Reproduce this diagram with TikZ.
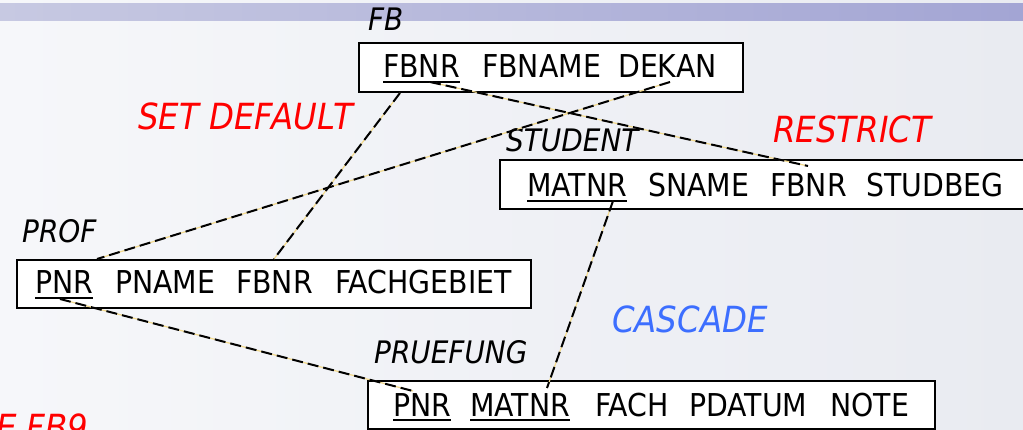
\documentclass[tikz,border=0pt]{standalone}
\usepackage{fontspec}
\setmainfont{DejaVu Sans}[FakeStretch=0.9]
\usetikzlibrary{calc}
\definecolor{bgL}{RGB}{246,247,250}
\definecolor{bgR}{RGB}{233,235,241}
\definecolor{barL}{RGB}{199,201,226}
\definecolor{barR}{RGB}{163,165,212}
\definecolor{fkyellow}{RGB}{243,218,142}
\definecolor{casblue}{RGB}{60,110,255}
\begin{document}
\begin{tikzpicture}[x=1pt,y=-1pt,
  relbox/.style={draw=black, line width=2pt, fill=white, inner sep=0pt, anchor=north west},
  attr/.style={inner sep=0pt, anchor=base west, font=\fontsize{31.5}{36}\selectfont},
  rellabel/.style={inner sep=0pt, anchor=base west, font=\fontsize{31}{36}\selectfont\itshape},
  rulelabel/.style={inner sep=0pt, anchor=base west, font=\fontsize{36}{42}\selectfont\itshape},
  ul/.style={line width=2.4pt},
  fk/.style={line width=2pt, dash pattern=on 11pt off 5pt,
    preaction={draw=fkyellow, line width=1.2pt, solid}}]
\useasboundingbox (0,0) rectangle (1023,430);
\clip (0,0) rectangle (1023,430);
% background
\shade[left color=bgL, right color=bgR] (0,0) rectangle (1023,430);
\shade[left color=barL, right color=barR] (0,4) rectangle (1023,21);
% boxes
\node[relbox, minimum width=384pt, minimum height=49pt] (fbbox) at (358,42) {};
\node[relbox, minimum width=540pt, minimum height=49pt] (studbox) at (499,159) {};
\node[relbox, minimum width=514pt, minimum height=48pt] (profbox) at (16,259) {};
\node[relbox, minimum width=567pt, minimum height=48pt] (pruebox) at (367,380) {};
% relation labels
\node[rellabel] (lfb) at (368,31) {FB};
\node[rellabel] (lstud) at (506,152) {STUDENT};
\node[rellabel] (lprof) at (22,243) {PROF};
\node[rellabel] (lprue) at (374,363) {PRUEFUNG};
% attributes
\node[attr] (fbfbnr) at (383,78) {FBNR};
\node[attr] (fbname) at (482,78) {FBNAME};
\node[attr] (fbdekan) at (618,78) {DEKAN};
\node[attr] (stmatnr) at (527,197) {MATNR};
\node[attr] (stsname) at (648,197) {SNAME};
\node[attr] (stfbnr) at (770,197) {FBNR};
\node[attr] (ststudbeg) at (866,197) {STUDBEG};
\node[attr] (prpnr) at (35,294) {PNR};
\node[attr] (prpname) at (115,294) {PNAME};
\node[attr] (prfbnr) at (236,294) {FBNR};
\node[attr] (prfach) at (335,294) {FACHGEBIET};
\node[attr] (pupnr) at (393,416) {PNR};
\node[attr] (pumatnr) at (470,416) {MATNR};
\node[attr] (pufach) at (595,416) {FACH};
\node[attr] (pupdatum) at (689,416) {PDATUM};
\node[attr] (punote) at (830,416) {NOTE};
% underlines of keys
\foreach \k in {fbfbnr,stmatnr,prpnr,pupnr,pumatnr}{
  \draw[ul] ([yshift=-4pt]\k.base west) -- ([yshift=-4pt]\k.base east);
}
% rule labels
\node[rulelabel, text=red] (setdef) at (138,130) {SET DEFAULT};
\node[rulelabel, text=red] (restrict) at (773,143) {RESTRICT};
\node[rulelabel, text=casblue] (cascade) at (612,333) {CASCADE};
\node[rulelabel, text=red] (efb) at (-4,440) {E FB9};
% foreign key connectors
\draw[fk] ([xshift=47pt,yshift=-4pt]fbfbnr.base west) -- ([xshift=38pt,yshift=31pt]stfbnr.base west);
\draw[fk] ([xshift=52pt,yshift=-4pt]fbdekan.base west) -- ([xshift=81pt]profbox.north west);
\draw[fk] ([xshift=42pt]fbbox.south west) -- ([xshift=258pt]profbox.north west);
\draw[fk] ([xshift=86pt,yshift=-4pt]stmatnr.base west) -- ([xshift=77pt,yshift=28pt]pumatnr.base west);
\draw[fk] ([xshift=25pt,yshift=-5pt]prpnr.base west) -- ([xshift=20pt,yshift=25pt]pupnr.base west);
\end{tikzpicture}
\end{document}
